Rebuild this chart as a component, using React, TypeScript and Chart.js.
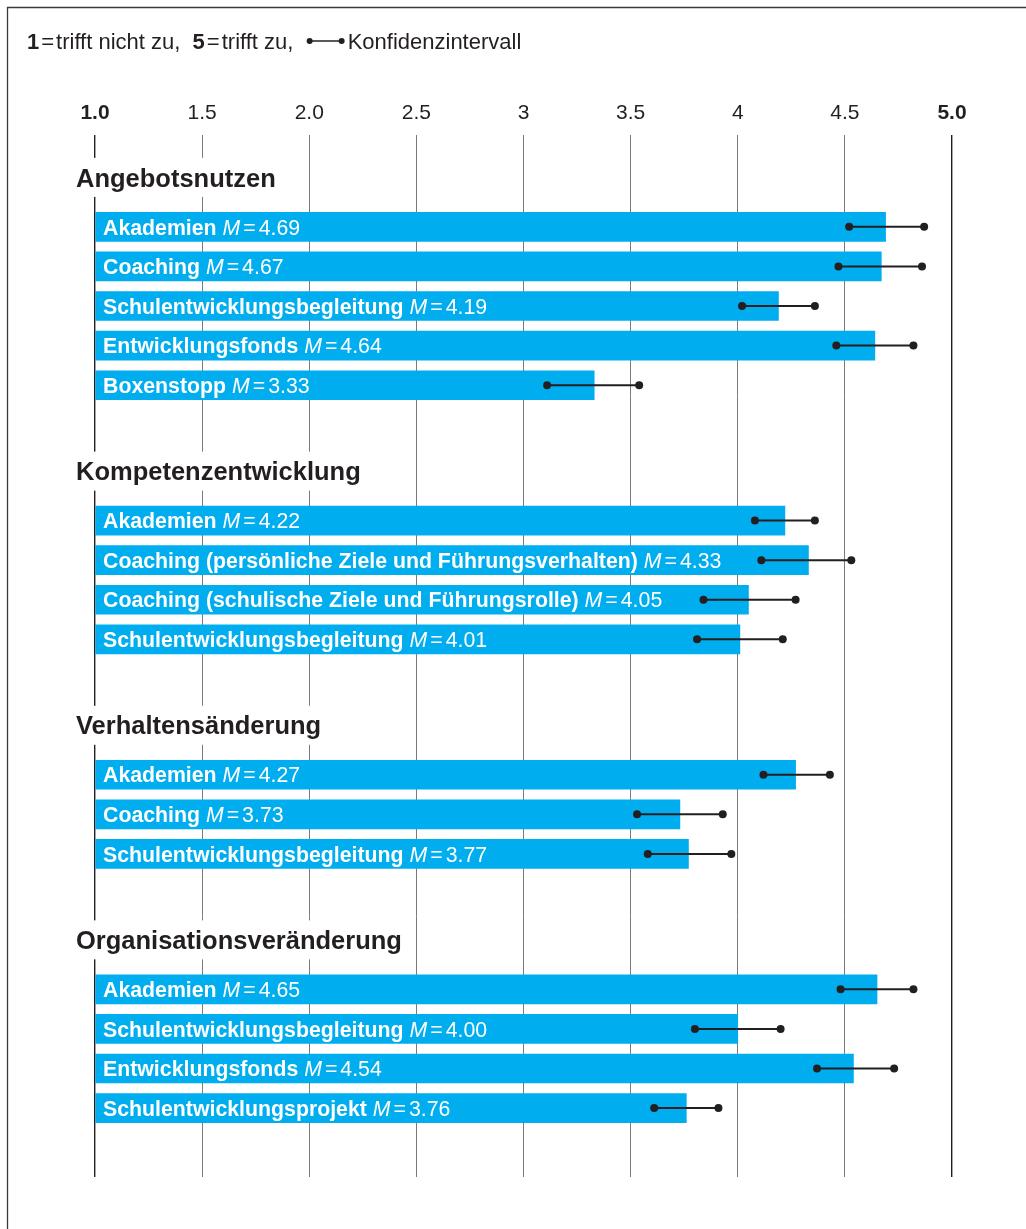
import React, { useEffect, useRef } from 'react';
import { Chart, registerables } from 'chart.js';

Chart.register(...registerables);

// ---------- data ----------
const groupTitles = ['Angebotsnutzen', 'Kompetenzentwicklung', 'Verhaltensänderung', 'Organisationsveränderung'];
const itemGroups = [0, 0, 0, 0, 0, 1, 1, 1, 1, 2, 2, 2, 3, 3, 3, 3];
const itemLabels = [
  'Akademien',
  'Coaching',
  'Schulentwicklungsbegleitung',
  'Entwicklungsfonds',
  'Boxenstopp',
  'Akademien',
  'Coaching (persönliche Ziele und Führungsverhalten)',
  'Coaching (schulische Ziele und Führungsrolle)',
  'Schulentwicklungsbegleitung',
  'Akademien',
  'Coaching',
  'Schulentwicklungsbegleitung',
  'Akademien',
  'Schulentwicklungsbegleitung',
  'Entwicklungsfonds',
  'Schulentwicklungsprojekt',
];
const meanValues = [4.69, 4.67, 4.19, 4.64, 3.33, 4.22, 4.33, 4.05, 4.01, 4.27, 3.73, 3.77, 4.65, 4.0, 4.54, 3.76];
const ciLower = [4.52, 4.47, 4.02, 4.46, 3.11, 4.08, 4.11, 3.84, 3.81, 4.12, 3.53, 3.58, 4.48, 3.8, 4.37, 3.61];
const ciUpper = [4.87, 4.86, 4.36, 4.82, 3.54, 4.36, 4.53, 4.27, 4.21, 4.43, 3.93, 3.97, 4.82, 4.2, 4.73, 3.91];
const tickValues = [1, 1.5, 2, 2.5, 3, 3.5, 4, 4.5, 5];
const tickLabels = ['1.0', '1.5', '2.0', '2.5', '3', '3.5', '4', '4.5', '5.0'];
const boldTicks = [1, 5];

// ---------- layout (in row units) ----------
const GROUP_GAP = 3.42;
const HEADING_OFFSET = 1.25;
const Y_MIN = -2.32;
const Y_MAX = 24.0;

const positions: number[] = [];
const groupStart: number[] = [];
{
  let p = 0;
  itemGroups.forEach((g, i) => {
    if (i > 0) p += g !== itemGroups[i - 1] ? GROUP_GAP : 1;
    if (groupStart[g] === undefined) groupStart[g] = p;
    positions.push(p);
  });
}

const FONT = '"Liberation Sans", Arial, Helvetica, sans-serif';
const TEXT = '#231f20';
const BAR = '#00adef';

type Run = { text: string; font: string; gapAfter?: number };

function drawRuns(ctx: CanvasRenderingContext2D, x: number, y: number, runs: Run[]) {
  let cx = x;
  for (const r of runs) {
    ctx.font = r.font;
    ctx.fillText(r.text, cx, y);
    cx += ctx.measureText(r.text).width + (r.gapAfter || 0);
  }
  return cx;
}

const overlayPlugin = {
  id: 'overlay',
  afterDatasetsDraw(chart: any) {
    const { ctx, chartArea } = chart;
    const x = chart.scales.x;
    const y = chart.scales.y;
    ctx.save();

    // bar labels
    const lsz = 21.3;
    ctx.fillStyle = '#ffffff';
    ctx.textBaseline = 'alphabetic';
    ctx.textAlign = 'left';
    itemLabels.forEach((lab, i) => {
      const py = y.getPixelForValue(positions[i]) + lsz * 0.36;
      drawRuns(ctx, chartArea.left + 8, py, [
        { text: lab + ' ', font: `bold ${lsz}px ${FONT}` },
        { text: 'M', font: `italic ${lsz}px ${FONT}`, gapAfter: 3 },
        { text: '=', font: `${lsz}px ${FONT}`, gapAfter: 3 },
        { text: meanValues[i].toFixed(2), font: `${lsz}px ${FONT}` },
      ]);
    });

    // confidence intervals
    ctx.strokeStyle = '#231f20';
    ctx.fillStyle = '#231f20';
    ctx.lineWidth = 2;
    meanValues.forEach((_, i) => {
      const py = y.getPixelForValue(positions[i]);
      const x0 = x.getPixelForValue(ciLower[i]);
      const x1 = x.getPixelForValue(ciUpper[i]);
      ctx.beginPath();
      ctx.moveTo(x0, py);
      ctx.lineTo(x1, py);
      ctx.stroke();
      for (const px of [x0, x1]) {
        ctx.beginPath();
        ctx.arc(px, py, 4, 0, Math.PI * 2);
        ctx.fill();
      }
    });

    // group headings
    const hsz = 25.5;
    groupTitles.forEach((t, g) => {
      const py = y.getPixelForValue(groupStart[g] - HEADING_OFFSET);
      ctx.font = `bold ${hsz}px ${FONT}`;
      const w = ctx.measureText(t).width;
      const hx = chartArea.left - 19;
      ctx.fillStyle = '#ffffff';
      ctx.fillRect(hx - 4, py - 19.5, w + 10, 39);
      ctx.fillStyle = TEXT;
      ctx.textBaseline = 'alphabetic';
      ctx.fillText(t, hx, py + hsz * 0.36);
    });

    ctx.restore();
  },
  afterDraw(chart: any) {
    const { ctx } = chart;
    ctx.save();
    // legend line
    const sz = 22;
    const my = 41;
    const ly = my + sz * 0.36;
    ctx.fillStyle = TEXT;
    ctx.textBaseline = 'alphabetic';
    let cx = drawRuns(ctx, 27, ly, [
      { text: '1', font: `bold ${sz}px ${FONT}`, gapAfter: 2 },
      { text: '=', font: `${sz}px ${FONT}`, gapAfter: 2 },
      { text: 'trifft nicht zu,  ', font: `${sz}px ${FONT}` },
      { text: '5', font: `bold ${sz}px ${FONT}`, gapAfter: 2 },
      { text: '=', font: `${sz}px ${FONT}`, gapAfter: 2 },
      { text: 'trifft zu,  ', font: `${sz}px ${FONT}` },
    ]);
    ctx.strokeStyle = TEXT;
    ctx.lineWidth = 1.5;
    const g0 = cx + 4;
    const g1 = cx + 36;
    ctx.beginPath();
    ctx.moveTo(g0, my);
    ctx.lineTo(g1, my);
    ctx.stroke();
    for (const px of [g0, g1]) {
      ctx.beginPath();
      ctx.arc(px, my, 3, 0, Math.PI * 2);
      ctx.fill();
    }
    ctx.font = `${sz}px ${FONT}`;
    ctx.fillText('Konfidenzintervall', g1 + 6, ly);

    // frame
    ctx.strokeStyle = '#3a3a3a';
    ctx.lineWidth = 1.3;
    ctx.beginPath();
    ctx.moveTo(7.5, chart.height);
    ctx.lineTo(7.5, 7.5);
    ctx.lineTo(chart.width, 7.5);
    ctx.stroke();
    ctx.restore();
  },
};

export default function App() {
  const ref = useRef<HTMLCanvasElement | null>(null);
  useEffect(() => {
    if (!ref.current) return;
    const chart = new Chart(ref.current, {
      type: 'bar',
      data: {
        datasets: [
          {
            data: meanValues.map((v, i) => ({ x: v, y: positions[i] })),
            backgroundColor: BAR,
            borderWidth: 0,
            barThickness: 29,
            base: 1,
          } as any,
        ],
      },
      options: {
        animation: false,
        responsive: false,
        indexAxis: 'y',
        layout: { padding: { top: 95, left: 95, right: 74, bottom: 52 } },
        plugins: { legend: { display: false }, tooltip: { enabled: false } },
        scales: {
          x: {
            type: 'linear',
            position: 'top',
            min: 1,
            max: 5,
            afterBuildTicks: (axis: any) => {
              axis.ticks = tickValues.map((v) => ({ value: v }));
            },
            afterFit: (axis: any) => {
              axis.height = 40;
            },
            border: { display: false },
            grid: {
              drawTicks: false,
              color: (c: any) => (boldTicks.includes(c.tick?.value) ? '#231f20' : '#7a7a7a'),
              lineWidth: (c: any) => (boldTicks.includes(c.tick?.value) ? 1.4 : 1),
            },
            ticks: {
              padding: 9,
              color: TEXT,
              font: (c: any) => ({
                family: FONT,
                size: 21,
                weight: boldTicks.includes(c.tick?.value) ? 'bold' : 'normal',
              }),
              callback: (v: any) => {
                const idx = tickValues.indexOf(Number(v));
                return idx >= 0 ? tickLabels[idx] : '';
              },
            },
          },
          y: {
            type: 'linear',
            display: false,
            reverse: true,
            offset: false,
            grid: { offset: false },
            min: Y_MIN,
            max: Y_MAX,
          },
        },
      } as any,
      plugins: [overlayPlugin],
    });
    return () => chart.destroy();
  }, []);
  return (
    <div style={{ position: 'absolute', left: 0, top: 0, width: 1026, height: 1229, background: '#fff' }}>
      <canvas ref={ref} width={1026} height={1229} style={{ display: 'block' }} />
    </div>
  );
}
